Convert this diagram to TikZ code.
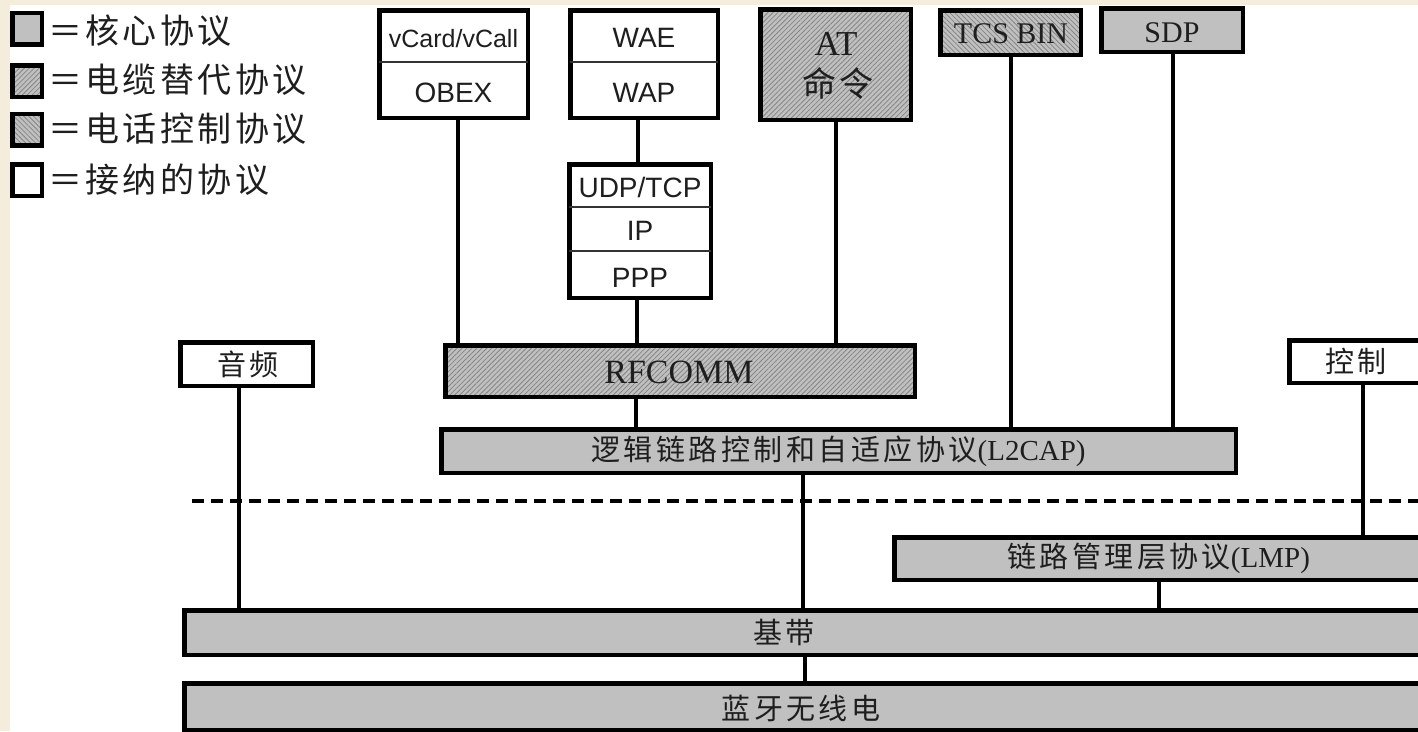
\documentclass[tikz,border=0pt]{standalone}
\usepackage{fontspec}
\setmainfont{Liberation Serif}
\setsansfont{Liberation Sans}
\newfontfamily\cjk{Noto Sans CJK SC}[LetterSpace=12]
\newfontfamily\cjkleg{Noto Sans CJK SC}[LetterSpace=10]
\usetikzlibrary{patterns.meta}

\definecolor{paper}{HTML}{F4EDDB}
\definecolor{core}{HTML}{C0C0C0}
\definecolor{hatch}{HTML}{858585}
\definecolor{ink}{HTML}{1E1E1E}

\begin{document}
\begin{tikzpicture}[x=1pt,y=-1pt,
  frame/.style={draw=black, line width=4.5pt, inner sep=0pt, outer sep=0pt},
  corebox/.style={frame, fill=core},
  cablebox/.style={frame, preaction={fill=core},
    pattern={Lines[angle=45,distance=3.5pt,line width=0.8pt]}, pattern color=hatch},
  telbox/.style={frame, preaction={fill=core},
    pattern={Lines[angle=-45,distance=3.5pt,line width=0.8pt]}, pattern color=hatch},
  openbox/.style={frame, fill=white},
  link/.style={draw=black, line width=4pt},
  divider/.style={draw=black!80, line width=2pt},
  layersep/.style={draw=black, line width=4pt, dash pattern=on 12pt off 7pt},
  sanslbl/.style={font=\sffamily\fontsize{28}{30}\selectfont, text=ink, inner sep=0pt, anchor=base},
  seriflbl/.style={font=\rmfamily\fontsize{30}{32}\selectfont, text=ink, inner sep=0pt, anchor=base},
  cjklbl/.style={font=\cjk\fontsize{29}{31}\selectfont, text=ink, inner sep=0pt},
  legtxt/.style={font=\cjkleg\fontsize{34}{36}\selectfont, text=ink, inner sep=0pt, anchor=west},
  legsq/.style={minimum width=29.5pt, minimum height=31.5pt},
]
\clip (0,0) rectangle (1418,731);
\fill[paper] (0,0) rectangle (1418,731);
\fill[white] (10,5) rectangle (1418,731);

% legend
\node[corebox, legsq]  (lg1) at (27,28.5) {};
\node[cablebox, legsq] (lg2) at (27,81) {};
\node[telbox, legsq]   (lg3) at (27,129.5) {};
\node[openbox, legsq]  (lg4) at (27,180) {};
\node[legtxt] (lt1) at (48,31) {＝核心协议};
\node[legtxt] (lt2) at (48,80) {＝电缆替代协议};
\node[legtxt] (lt3) at (48,129) {＝电话控制协议};
\node[legtxt] (lt4) at (48,180) {＝接纳的协议};

% upper protocol stacks
\node[openbox, minimum width=148.5pt, minimum height=107.5pt] (vc) at (453.5,64) {};
\draw[divider] (vc.west |- 0,62) -- (vc.east |- 0,62);
\node[sanslbl, font=\sffamily\fontsize{25}{27}\selectfont] (vct) at (453.5,47) {vCard/vCall};
\node[sanslbl] (obt) at (453.5,102) {OBEX};

\node[openbox, minimum width=147.5pt, minimum height=107.5pt] (wae) at (644,64) {};
\draw[divider] (wae.west |- 0,62) -- (wae.east |- 0,62);
\node[sanslbl] (waet) at (644,47) {WAE};
\node[sanslbl] (wapt) at (644,102) {WAP};

\node[openbox, minimum width=141.5pt, minimum height=133.5pt] (udp) at (640,231) {};
\draw[divider] (udp.west |- 0,207) -- (udp.east |- 0,207);
\draw[divider] (udp.west |- 0,251) -- (udp.east |- 0,251);
\node[sanslbl] (udpt) at (640,197) {UDP/TCP};
\node[sanslbl] (ipt) at (640,240) {IP};
\node[sanslbl] (pppt) at (640,287) {PPP};

\node[cablebox, minimum width=150.5pt, minimum height=110.5pt] (at) at (835.5,64.5) {};
\node[seriflbl, font=\rmfamily\fontsize{35}{37}\selectfont] (att) at (836,55) {AT};
\node[font=\cjkleg\fontsize{34}{36}\selectfont, text=ink, inner sep=0pt] (cmdt) at (838,83) {命令};

\node[telbox, minimum width=140.5pt, minimum height=44.5pt] (tcs) at (1010.5,32.5) {};
\node[seriflbl] (tcst) at (1011,43) {TCS BIN};
\node[corebox, minimum width=141.5pt, minimum height=43.5pt] (sdp) at (1172,30) {};
\node[seriflbl] (sdpt) at (1172,42) {SDP};

\node[cablebox, minimum width=469.5pt, minimum height=51.5pt] (rf) at (680,371) {};
\node[seriflbl, font=\rmfamily\fontsize{34}{36}\selectfont] (rft) at (679,383) {RFCOMM};

\node[corebox, minimum width=794.5pt, minimum height=43.5pt,
  font=\cjk\fontsize{29}{31}\selectfont, text=ink] (l2) at (838.5,451)
  {逻辑链路控制和自适应协议{\rmfamily\fontsize{29}{31}\selectfont(L2CAP)}};

\node[openbox, minimum width=132.5pt, minimum height=43.5pt] (audio) at (246.5,364) {};
\node[cjklbl] (audiot) at (248,364) {音频};
\node[openbox, minimum width=133.5pt, minimum height=42.5pt] (ctrl) at (1356,361.5) {};
\node[cjklbl] (ctrlt) at (1356,361.5) {控制};

% lower (controller) layers
\node[corebox, minimum width=528.5pt, minimum height=42.5pt,
  font=\cjk\fontsize{29}{31}\selectfont, text=ink] (lmp) at (1158.5,558.5)
  {链路管理层协议{\rmfamily\fontsize{29}{31}\selectfont(LMP)}};
\node[corebox, minimum width=1238.5pt, minimum height=44.5pt] (base) at (803.5,632.5) {};
\node[cjklbl] (baset) at (784,632) {基带};
\node[corebox, minimum width=1238.5pt, minimum height=46.5pt] (radio) at (803.5,706.5) {};
\node[cjklbl] (radiot) at (801,708) {蓝牙无线电};

% host / controller boundary
\draw[layersep] (192,501) -- (1418,501);

% connectors
\draw[link] (458,0 |- vc.south) -- (458,0 |- rf.north);
\draw[link] (638,0 |- wae.south) -- (638,0 |- udp.north);
\draw[link] (637,0 |- udp.south) -- (637,0 |- rf.north);
\draw[link] (836,0 |- at.south) -- (836,0 |- rf.north);
\draw[link] (1011,0 |- tcs.south) -- (1011,0 |- l2.north);
\draw[link] (1173,0 |- sdp.south) -- (1173,0 |- l2.north);
\draw[link] (636,0 |- rf.south) -- (636,0 |- l2.north);
\draw[link] (239,0 |- audio.south) -- (239,0 |- base.north);
\draw[link] (1363,0 |- ctrl.south) -- (1363,0 |- lmp.north);
\draw[link] (803,0 |- l2.south) -- (803,0 |- base.north);
\draw[link] (1159,0 |- lmp.south) -- (1159,0 |- base.north);
\draw[link] (805,0 |- base.south) -- (805,0 |- radio.north);
\end{tikzpicture}
\end{document}
